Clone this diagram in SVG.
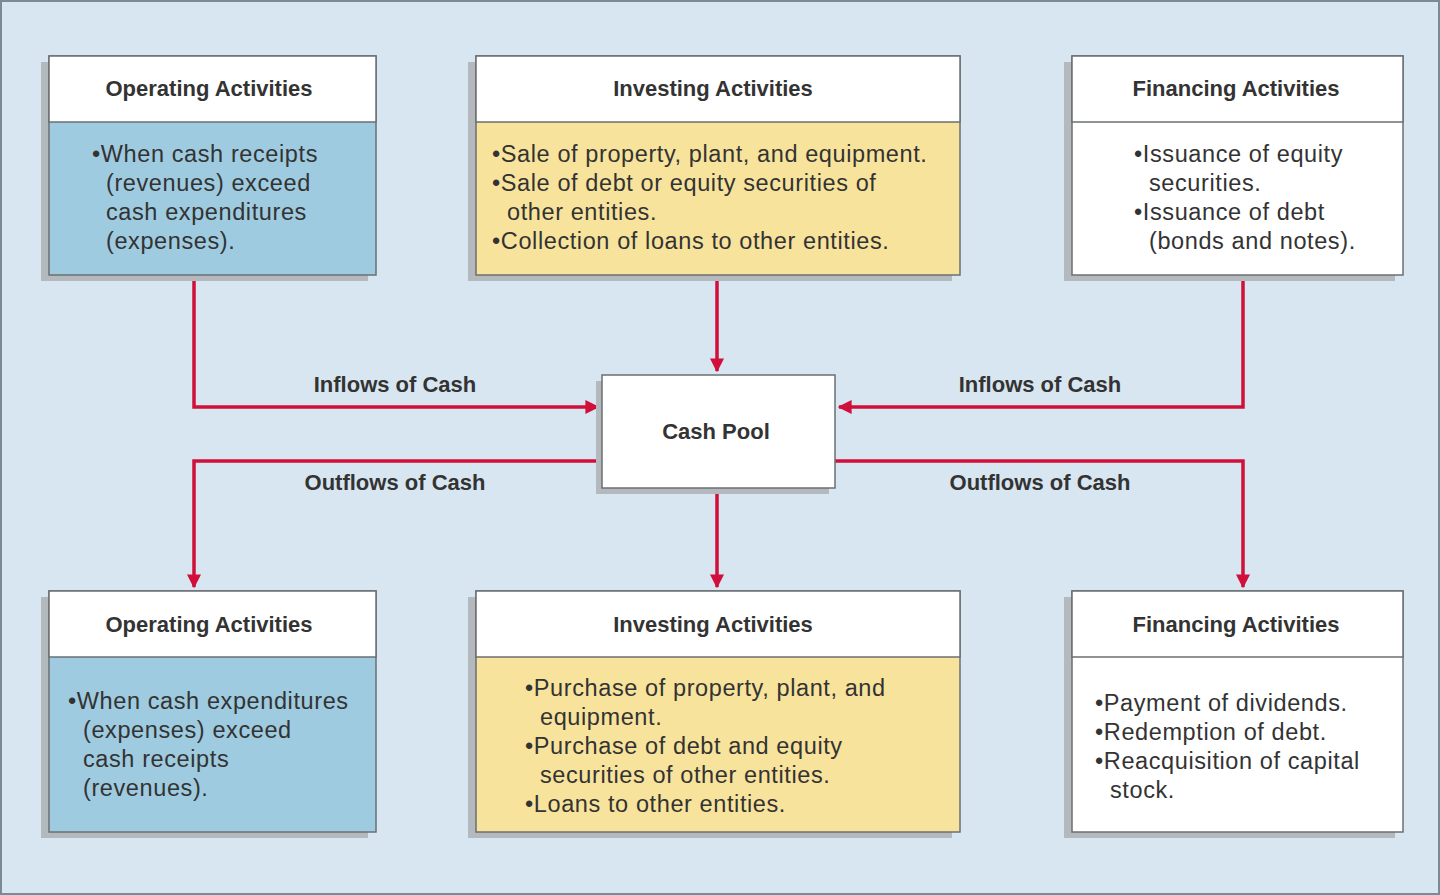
<svg xmlns="http://www.w3.org/2000/svg" width="1440" height="895" viewBox="0 0 1440 895">
<defs>
<style>
.sh{fill:#b4b9bd}
.box{stroke:#6b6f73;stroke-width:1.5}
.hd{fill:#fff}
.blue{fill:#9ecbe0}
.yel{fill:#f8e39c}
.wht{fill:#fff}
.t{font-family:"Liberation Sans",Arial,sans-serif;font-size:23.5px;letter-spacing:0.6px;fill:#333}
.h{font-family:"Liberation Sans",Arial,sans-serif;font-size:22px;font-weight:bold;fill:#333;text-anchor:middle}
.c{fill:none;stroke:#d0103a;stroke-width:3.5}
</style>
<marker id="a" viewBox="0 0 10 10" refX="9" refY="5" markerWidth="4" markerHeight="4" orient="auto"><path d="M0,0L10,5L0,10z" fill="#d0103a"/></marker>
</defs>
<rect x="1" y="1" width="1438" height="893" fill="#d7e6f0" stroke="#7a8a96" stroke-width="2"/>
<g id="connectors">
<path class="c" d="M194,275V407H598" marker-end="url(#a)"/>
<path class="c" d="M717,275V371" marker-end="url(#a)"/>
<path class="c" d="M1243,275V407H839" marker-end="url(#a)"/>
<path class="c" d="M602,461H194V587" marker-end="url(#a)"/>
<path class="c" d="M717,488V587" marker-end="url(#a)"/>
<path class="c" d="M835,461H1243V587" marker-end="url(#a)"/>
<text class="h" x="395" y="392">Inflows of Cash</text>
<text class="h" x="1040" y="392">Inflows of Cash</text>
<text class="h" x="395" y="490">Outflows of Cash</text>
<text class="h" x="1040" y="490">Outflows of Cash</text>
</g>
<g id="op-top">
<rect class="sh" x="41" y="62" width="327" height="219"/>
<rect class="box blue" x="49" y="56" width="327" height="219"/>
<rect class="box hd" x="49" y="56" width="327" height="66"/>
<text class="h" x="209" y="96">Operating Activities</text>
<text class="t" x="92" y="162">•When cash receipts</text>
<text class="t" x="106" y="191">(revenues) exceed</text>
<text class="t" x="106" y="220">cash expenditures</text>
<text class="t" x="106" y="249">(expenses).</text>
</g>
<g id="inv-top">
<rect class="sh" x="468" y="62" width="484" height="219"/>
<rect class="box yel" x="476" y="56" width="484" height="219"/>
<rect class="box hd" x="476" y="56" width="484" height="66"/>
<text class="h" x="713" y="96">Investing Activities</text>
<text class="t" x="492" y="162">•Sale of property, plant, and equipment.</text>
<text class="t" x="492" y="191">•Sale of debt or equity securities of</text>
<text class="t" x="507" y="220">other entities.</text>
<text class="t" x="492" y="249">•Collection of loans to other entities.</text>
</g>
<g id="fin-top">
<rect class="sh" x="1064" y="62" width="331" height="219"/>
<rect class="box wht" x="1072" y="56" width="331" height="219"/>
<rect class="box hd" x="1072" y="56" width="331" height="66"/>
<text class="h" x="1236" y="96">Financing Activities</text>
<text class="t" x="1134" y="162">•Issuance of equity</text>
<text class="t" x="1149" y="191">securities.</text>
<text class="t" x="1134" y="220">•Issuance of debt</text>
<text class="t" x="1149" y="249">(bonds and notes).</text>
</g>
<g id="cash-pool">
<rect class="sh" x="596" y="381" width="233" height="113"/>
<rect class="box wht" x="602" y="375" width="233" height="113"/>
<text class="h" x="716" y="439">Cash Pool</text>
</g>
<g id="op-bot">
<rect class="sh" x="41" y="597" width="327" height="241"/>
<rect class="box blue" x="49" y="591" width="327" height="241"/>
<rect class="box hd" x="49" y="591" width="327" height="66"/>
<text class="h" x="209" y="632">Operating Activities</text>
<text class="t" x="68" y="709">•When cash expenditures</text>
<text class="t" x="83" y="738">(expenses) exceed</text>
<text class="t" x="83" y="767">cash receipts</text>
<text class="t" x="83" y="796">(revenues).</text>
</g>
<g id="inv-bot">
<rect class="sh" x="468" y="597" width="484" height="241"/>
<rect class="box yel" x="476" y="591" width="484" height="241"/>
<rect class="box hd" x="476" y="591" width="484" height="66"/>
<text class="h" x="713" y="632">Investing Activities</text>
<text class="t" x="525" y="696">•Purchase of property, plant, and</text>
<text class="t" x="540" y="725">equipment.</text>
<text class="t" x="525" y="754">•Purchase of debt and equity</text>
<text class="t" x="540" y="783">securities of other entities.</text>
<text class="t" x="525" y="812">•Loans to other entities.</text>
</g>
<g id="fin-bot">
<rect class="sh" x="1064" y="597" width="331" height="241"/>
<rect class="box wht" x="1072" y="591" width="331" height="241"/>
<rect class="box hd" x="1072" y="591" width="331" height="66"/>
<text class="h" x="1236" y="632">Financing Activities</text>
<text class="t" x="1095" y="711">•Payment of dividends.</text>
<text class="t" x="1095" y="740">•Redemption of debt.</text>
<text class="t" x="1095" y="769">•Reacquisition of capital</text>
<text class="t" x="1110" y="798">stock.</text>
</g>
</svg>
